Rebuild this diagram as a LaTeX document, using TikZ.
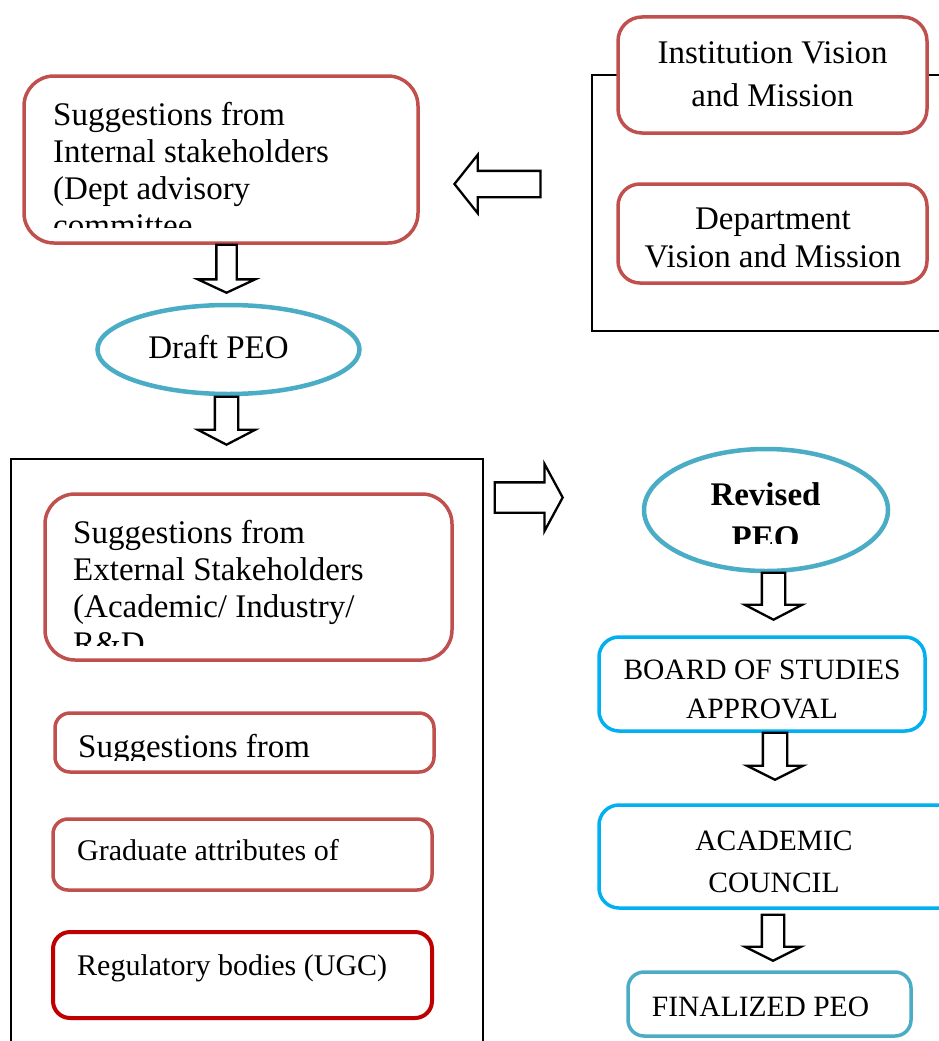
\documentclass[tikz,border=0pt]{standalone}
\usepackage{fontspec}
\setmainfont{Liberation Serif}
\usetikzlibrary{shapes.geometric,shapes.arrows}

\definecolor{boxred}{RGB}{192,80,77}
\definecolor{darkred}{RGB}{192,0,0}
\definecolor{tealblue}{RGB}{75,172,198}
\definecolor{skyblue}{RGB}{0,176,240}

\newcommand\bigfont[1]{\fontsize{33}{#1}\selectfont}
\newcommand\midfont{\fontsize{30}{36}\selectfont}
\newcommand\capsfont[1]{\fontsize{29.5}{#1}\selectfont}

\tikzset{
  redbox/.style={draw=boxred, fill=white, line width=3.5pt, rounded corners=#1},
  bluebox/.style={draw=skyblue, fill=white, line width=3.5pt, rounded corners=#1},
  oval/.style={ellipse, draw=tealblue, fill=white, line width=4.5pt},
  frame/.style={draw=black, line width=1.5pt},
  blockarrow/.style={single arrow, draw=black, fill=white, line width=2.3pt,
    inner ysep=0pt, inner xsep=10.5pt, anchor=tip, single arrow head extend=17pt,
    single arrow tip angle=125},
  txt/.style={inner sep=0pt, anchor=base west, align=left, font=\bigfont{39}},
  ctxt/.style={inner sep=0pt, anchor=base, align=center}
}

\begin{document}
\begin{tikzpicture}[x=1pt,y=-1pt]

        \clip (0,0) rectangle (939,1041);

        % outer frames
        \draw[frame] (592,75) rectangle (965,331);
        \draw[frame] (11,459) rectangle (483,1060);

        \begin{scope}[every node/.style={inner sep=0pt}]
          \node[redbox=30, minimum width=394, minimum height=167] (intbox)   at (221,159.5) {};
          \node[redbox=24, minimum width=309, minimum height=116] (instbox)  at (772.5,75)  {};
          \node[redbox=22, minimum width=309, minimum height=99]  (deptbox)  at (772.5,233.5) {};
          \node[oval, minimum width=262, minimum height=89]       (draft)    at (228.5,349.5) {};
          \node[redbox=30, minimum width=407, minimum height=166] (extbox)   at (248.5,577) {};
          \node[redbox=15, minimum width=379, minimum height=59]  (suggbox)  at (244.5,742.5) {};
          \node[redbox=15, minimum width=379, minimum height=71]  (gradbox)  at (242.5,854.5) {};
          \node[redbox=17, draw=darkred, line width=4pt, minimum width=379, minimum height=86] (regbox) at (242.5,975) {};
          \node[oval, minimum width=244, minimum height=122]      (revised)  at (766,510) {};
          \node[bluebox=20, minimum width=326, minimum height=94]  (bosbox)   at (762,684) {};
          \node[bluebox=20, minimum width=364, minimum height=103] (acadbox)  at (781,856.5) {};
          \node[bluebox=16, draw=tealblue, minimum width=283, minimum height=64] (finalbox) at (769.5,1004) {};
        \end{scope}

        % block arrows
        \node[blockarrow, shape border rotate=180, minimum height=86, minimum width=56,
              inner xsep=0pt, inner ysep=12pt,
              single arrow head extend=16pt, single arrow tip angle=103] (arrleft) at (453,184) {};
        \node[blockarrow, shape border rotate=270, minimum height=48, minimum width=55, inner xsep=9pt,
              single arrow head extend=18.5pt, single arrow tip angle=130] (arrone) at (226.5,294) {};
        \node[blockarrow, shape border rotate=270, minimum height=48, minimum width=55] (arrtwo) at (226.5,446) {};
        \node[blockarrow, minimum height=68, minimum width=65, inner xsep=0pt, inner ysep=14pt,
              single arrow head extend=18.5pt, single arrow tip angle=123] (arrright) at (564,497.5) {};
        \node[blockarrow, shape border rotate=270, minimum height=47, minimum width=55] (arrthree) at (773.5,621) {};
        \node[blockarrow, shape border rotate=270, minimum height=47, minimum width=54, inner xsep=11pt,
              single arrow head extend=16pt, single arrow tip angle=127] (arrfour) at (775,781) {};
        \node[blockarrow, shape border rotate=270, minimum height=46, minimum width=54, inner xsep=10pt,
              single arrow tip angle=127] (arrfive) at (773,962) {};

        % texts (base anchor sits on the last line)
        \begin{scope}
          \clip (30,80) rectangle (415,227);
          \node[txt, font=\bigfont{37}] (inttext) at (53,236) {Suggestions from\\Internal stakeholders\\(Dept advisory\\committee};
        \end{scope}
        \begin{scope}
          \clip (45,495) rectangle (452,645);
          \node[txt, font=\bigfont{37}] (exttext) at (73,654) {Suggestions from\\External Stakeholders\\(Academic/ Industry/\\R\&D};
        \end{scope}
        \begin{scope}
          \clip (55,713) rectangle (434,760);
          \node[txt] (suggtext) at (78,757) {Suggestions from};
        \end{scope}
        \begin{scope}
          \clip (645,450) rectangle (888,543);
          \node[ctxt, font=\bigfont{43}\bfseries] (revtext) at (765.5,548) {Revised\\PEO};
        \end{scope}

        \node[ctxt, font=\bigfont{43}] (insttext) at (772.5,106) {Institution Vision\\and Mission};
        \node[ctxt, font=\bigfont{38}] (depttext) at (773,267) {Department\\Vision and Mission};
        \node[ctxt, font=\bigfont{40}] (drafttext) at (218.5,358) {Draft PEO};
        \node[txt, font=\midfont] (gradtext) at (77,860) {Graduate attributes of};
        \node[txt, font=\midfont] (regtext) at (77,975) {Regulatory bodies (UGC)};
        \node[ctxt, font=\capsfont{39}] (bostext) at (762,718) {BOARD OF STUDIES\\APPROVAL};
        \node[ctxt, font=\capsfont{42}] (acadtext) at (774,892) {ACADEMIC\\COUNCIL};
        \node[ctxt, font=\capsfont{36}] (finaltext) at (760.5,1016) {FINALIZED PEO};

      \end{tikzpicture}
\end{document}
